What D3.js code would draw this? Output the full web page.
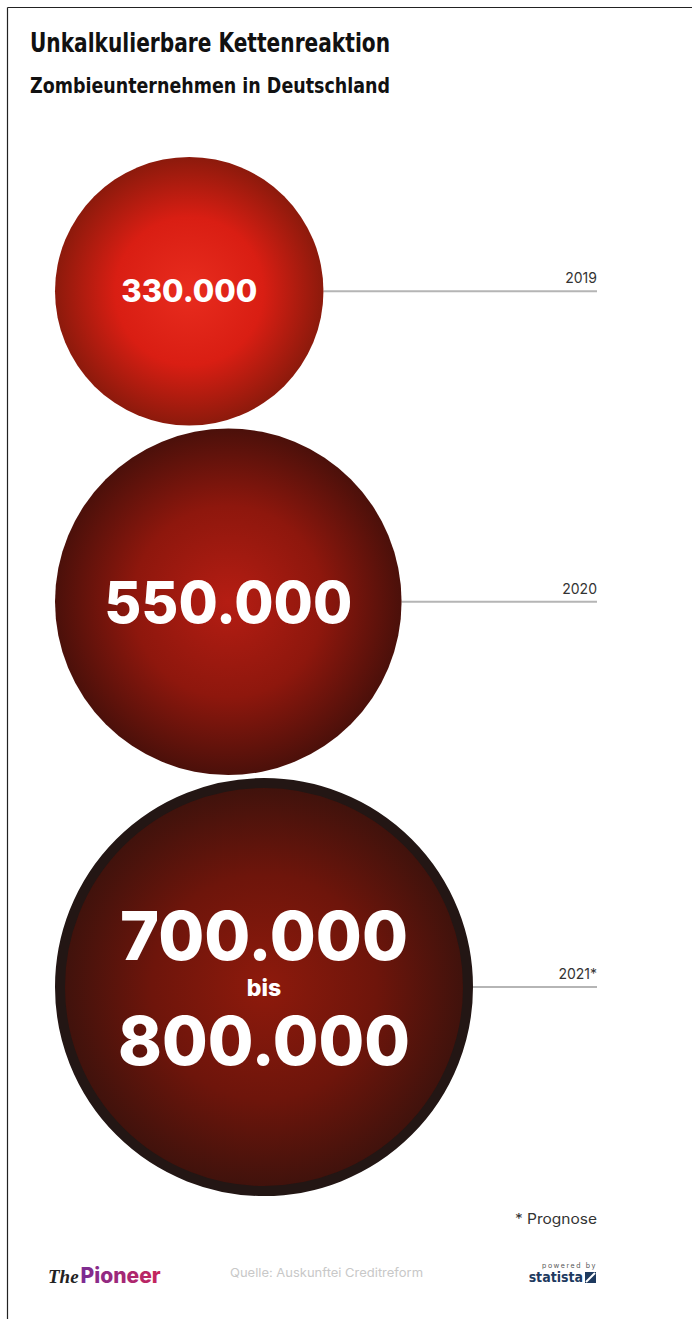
<!DOCTYPE html>
<html><head><meta charset="utf-8">
<script src="https://cdn.jsdelivr.net/npm/d3@7"></script>
<style>body{margin:0;background:#fff}svg{display:block}</style>
</head><body>
<script>
const years = ["2019", "2020", "2021*"];
const values = [330000, 550000, 800000];
const valueLines = [["330.000"], ["550.000"], ["700.000", "bis", "800.000"]];
const title = "Unkalkulierbare Kettenreaktion";
const subtitle = "Zombieunternehmen in Deutschland";
const note = "* Prognose";
const source = "Quelle: Auskunftei Creditreform";

const W = 692, H = 1319;
const svg = d3.select("body").append("svg").attr("width", W).attr("height", H);
const defs = svg.append("defs");

// frame
svg.append("line").attr("x1", 7.5).attr("x2", 7.5).attr("y1", 7.5).attr("y2", H).attr("stroke", "#222").attr("stroke-width", 1.2);
svg.append("line").attr("x1", 7.5).attr("x2", W).attr("y1", 7.5).attr("y2", 7.5).attr("stroke", "#222").attr("stroke-width", 1.2);

const condF = "'Liberation Sans Narrow','DejaVu Sans Condensed',sans-serif";
svg.append("text").attr("x", 30).attr("y", 52).text(title)
  .attr("font-family", condF).attr("font-weight", 700)
  .attr("font-size", 26).attr("fill", "#111").attr("textLength", 360).attr("lengthAdjust", "spacingAndGlyphs");
svg.append("text").attr("x", 30).attr("y", 93).text(subtitle)
  .attr("font-family", condF).attr("font-weight", 700)
  .attr("font-size", 22).attr("fill", "#111").attr("textLength", 360).attr("lengthAdjust", "spacingAndGlyphs");

const r = d3.scaleSqrt().domain([0, 800000]).range([0, 209]);
const left = 55, top0 = 157, gap = 3, lineEnd = 597;
const centers = [];
let y = top0;
values.forEach(v => { const rr = r(v); centers.push({cx: left + rr, cy: y + rr, r: rr}); y += 2 * rr + gap; });

const grads = [
  ["#e82c1e", "#d91e13", "#8c1a0c"],
  ["#b51d13", "#8e170d", "#4b100a"],
  ["#8e1a0c", "#6e150b", "#3e120c"]
];
grads.forEach((g, i) => {
  const gr = defs.append("radialGradient").attr("id", "g" + i).attr("cx", "50%").attr("cy", "50%").attr("r", "50%");
  gr.append("stop").attr("offset", "0%").attr("stop-color", g[0]);
  gr.append("stop").attr("offset", "55%").attr("stop-color", g[1]);
  gr.append("stop").attr("offset", "100%").attr("stop-color", g[2]);
});

const rows = svg.selectAll("g.row").data(values).join("g").attr("class", "row");
rows.append("line")
  .attr("x1", (d, i) => centers[i].cx + centers[i].r).attr("x2", lineEnd)
  .attr("y1", (d, i) => centers[i].cy).attr("y2", (d, i) => centers[i].cy)
  .attr("stroke", "#b5b5b5").attr("stroke-width", 2);
rows.append("text").attr("x", lineEnd).attr("y", (d, i) => centers[i].cy - 8)
  .attr("text-anchor", "end").attr("font-family", "Inter, sans-serif").attr("font-size", 14)
  .attr("fill", "#333").text((d, i) => years[i]);
rows.append("circle")
  .attr("cx", (d, i) => centers[i].cx).attr("cy", (d, i) => centers[i].cy)
  .attr("r", (d, i) => i === 2 ? centers[i].r - 5 : centers[i].r)
  .attr("fill", (d, i) => `url(#g${i})`)
  .attr("stroke", (d, i) => i === 2 ? "#231614" : "none")
  .attr("stroke-width", (d, i) => i === 2 ? 10 : 0);

const fontF = "Inter, 'Open Sans', sans-serif";
const c0 = centers[0], c1 = centers[1], c2 = centers[2];
svg.append("text").attr("x", c0.cx).attr("y", c0.cy + 11).attr("text-anchor", "middle")
  .attr("font-family", fontF).attr("font-weight", 800).attr("font-size", 31).attr("fill", "#fff")
  .attr("textLength", 136).attr("lengthAdjust", "spacingAndGlyphs").text(valueLines[0][0]);
svg.append("text").attr("x", c1.cx).attr("y", c1.cy + 21).attr("text-anchor", "middle")
  .attr("font-family", fontF).attr("font-weight", 800).attr("font-size", 58).attr("fill", "#fff")
  .attr("textLength", 248).attr("lengthAdjust", "spacingAndGlyphs").text(valueLines[1][0]);
// multi-line label for 2021 as one text element
const t3 = svg.append("text").attr("text-anchor", "middle")
  .attr("font-family", fontF).attr("font-weight", 800).attr("fill", "#fff");
const l3 = [
  {dy: -27, fs: 68, len: 288},
  {dy: 9, fs: 23, len: null},
  {dy: 78, fs: 68, len: 292}
];
valueLines[2].forEach((s, k) => {
  const ts = t3.append("tspan").attr("x", c2.cx).attr("y", c2.cy + l3[k].dy)
    .attr("font-size", l3[k].fs).text(s);
  if (l3[k].len) ts.attr("textLength", l3[k].len).attr("lengthAdjust", "spacingAndGlyphs");
});

// footer
svg.append("text").attr("x", 597).attr("y", 1224).attr("text-anchor", "end")
  .attr("font-family", "Inter, sans-serif").attr("font-size", 14).attr("fill", "#333")
  .attr("textLength", 82).attr("lengthAdjust", "spacingAndGlyphs").text(note);
const pg = defs.append("linearGradient").attr("id", "pio");
pg.append("stop").attr("offset", "0%").attr("stop-color", "#5a2fab");
pg.append("stop").attr("offset", "100%").attr("stop-color", "#c8245a");
const pt = svg.append("text").attr("x", 48).attr("y", 1283);
pt.append("tspan").text("The").attr("font-family", "'Liberation Serif','DejaVu Serif',serif").attr("font-style", "italic").attr("font-weight", 700).attr("font-size", 19).attr("fill", "#222");
pt.append("tspan").text("Pioneer").attr("dx", 2).attr("font-family", "Inter, sans-serif").attr("font-weight", 800).attr("font-size", 21).attr("fill", "url(#pio)");
svg.append("text").attr("x", 230).attr("y", 1277).attr("font-family", "Inter, sans-serif").attr("font-size", 12)
  .attr("fill", "#c8c8c8").attr("textLength", 193).attr("lengthAdjust", "spacingAndGlyphs").text(source);
svg.append("text").attr("x", 597).attr("y", 1268).attr("text-anchor", "end").attr("font-family", "Inter, sans-serif")
  .attr("font-size", 7).attr("letter-spacing", 1.6).attr("fill", "#555").text("powered by");
svg.append("text").attr("x", 583).attr("y", 1282).attr("text-anchor", "end").attr("font-family", condF)
  .attr("font-weight", 700).attr("font-size", 14).attr("fill", "#1e3a5f").text("statista");
svg.append("rect").attr("x", 585).attr("y", 1272).attr("width", 11).attr("height", 11).attr("fill", "#1e3a5f");
svg.append("path").attr("d", "M586,1282 L595,1273").attr("stroke", "#fff").attr("stroke-width", 2);
</script>
</body></html>
